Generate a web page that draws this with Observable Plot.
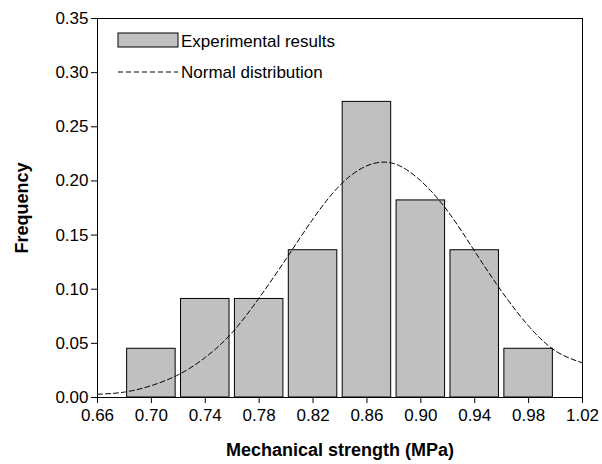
<!DOCTYPE html>
<html><head><meta charset="utf-8">
<script src="https://cdn.jsdelivr.net/npm/d3@7"></script>
<script src="https://cdn.jsdelivr.net/npm/@observablehq/plot@0.6"></script>
<style>body{margin:0;background:#fff;font-family:"Liberation Sans",Arial,sans-serif}</style>
</head><body>
<script>
const binCenters = [0.70, 0.74, 0.78, 0.82, 0.86, 0.90, 0.94, 0.98];
const frequency = [0.045, 0.091, 0.091, 0.136, 0.273, 0.182, 0.136, 0.045];
const curveX = [0.66, 0.68, 0.70, 0.72, 0.74, 0.76, 0.78, 0.80, 0.82, 0.84, 0.86, 0.88, 0.90, 0.92, 0.94, 0.96, 0.98, 1.00, 1.02];
const curveY = [0.003, 0.005, 0.011, 0.021, 0.037, 0.060, 0.092, 0.128, 0.165, 0.196, 0.214, 0.216, 0.200, 0.172, 0.135, 0.098, 0.066, 0.043, 0.032];
const xTicks = [0.66, 0.70, 0.74, 0.78, 0.82, 0.86, 0.90, 0.94, 0.98, 1.02];
const yTicks = [0, 0.05, 0.10, 0.15, 0.20, 0.25, 0.30, 0.35];

const bars = binCenters.map((c, i) => ({x1: c - 0.018, x2: c + 0.018, y: frequency[i]}));
const curve = curveX.map((x, i) => ({x, y: curveY[i]}));

const chart = Plot.plot({
  width: 602, height: 464,
  marginTop: 18, marginBottom: 67, marginLeft: 97, marginRight: 20,
  style: {fontFamily: "Liberation Sans, Arial, sans-serif", fontSize: "16px", background: "#fff", color: "#000"},
  x: {domain: [0.66, 1.02], ticks: xTicks, tickFormat: d3.format(".2f"), label: "Mechanical strength (MPa)", labelArrow: "none", labelAnchor: "center", labelOffset: 58, tickSize: 6, tickPadding: 5},
  y: {domain: [0, 0.35], ticks: yTicks, tickFormat: d3.format(".2f"), label: "Frequency", labelArrow: "none", labelAnchor: "center", labelOffset: 82, tickSize: 6},
  marks: [
    Plot.rectY(bars, {x1: "x1", x2: "x2", y: "y", fill: "#c0c0c0", stroke: "#000", strokeWidth: 1}),
    Plot.line(curve, {x: "x", y: "y", curve: "natural", stroke: "#000", strokeWidth: 1, strokeDasharray: "5,3"}),
    Plot.frame({stroke: "#000"})
  ]
});
document.body.append(chart);

const svg = d3.select(chart);
svg.selectAll("[aria-label='x-axis label'] text, [aria-label='y-axis label'] text").style("font-weight", "bold").style("font-size", "18px");
svg.selectAll("[aria-label='x-axis tick label'] text, [aria-label='y-axis tick label'] text").style("font-size", "17px");
const leg = svg.append("g").style("font-size", "17px").attr("text-anchor", "start");
leg.append("rect").attr("x", 118).attr("y", 33).attr("width", 60).attr("height", 14).attr("fill", "#c0c0c0").attr("stroke", "#000");
leg.append("text").attr("x", 181).attr("y", 47).text("Experimental results");
leg.append("line").attr("x1", 118).attr("x2", 178).attr("y1", 72).attr("y2", 72).attr("stroke", "#000").attr("stroke-dasharray", "5,3");
leg.append("text").attr("x", 181).attr("y", 78).text("Normal distribution");
</script>
</body></html>
